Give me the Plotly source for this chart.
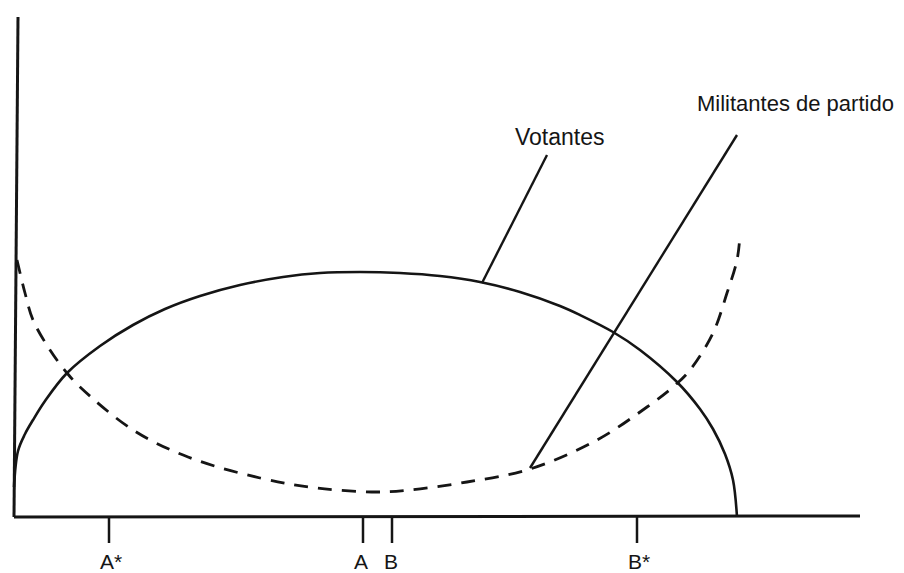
import plotly.graph_objects as go

# Votantes curve (solid)
votantes_x = [0, 4, 11, 19, 31, 53, 86, 119, 151, 186, 226, 269, 306, 346, 386, 426, 466,
              506, 546, 566, 599, 626, 663, 686, 699, 711, 719, 723]
votantes_y = [30, 66, 83, 97, 116, 144, 171, 192, 208, 221, 232, 240, 244, 245, 244, 241, 235,
              225, 211, 202, 185, 167, 135, 108, 88, 63, 37, 0]

# Militantes de partido curve (dashed)
militantes_x = [3, 11, 19, 36, 53, 66, 119, 174, 246, 303, 363, 396, 453, 516, 583, 633, 659, 676, 699, 713, 723, 726]
militantes_y = [257, 224, 197, 167, 144, 130, 87, 60, 39, 29, 25, 27, 35, 48, 77, 110, 130, 147, 184, 224, 257, 282]

# Axis lines
yaxis_x = [0, 4]
yaxis_y = [0, 500]
xaxis_x = [0, 846]
xaxis_y = [0, 1]

# Tick marks and labels on the horizontal axis
tick_pos = [95, 349, 378, 623]
tick_labels = ["A*", "A", "B", "B*"]
tick_label_x = [97, 347, 377, 625]
tick_len = 26

# Leader lines for labels: [start, end]
votantes_leader_x = [533, 468]
votantes_leader_y = [362, 234]
militantes_leader_x = [723, 516]
militantes_leader_y = [382, 49]

label_votantes = ("Votantes", 546, 380)
label_militantes = ("Militantes de partido", 781, 414)

INK = "#151515"
FONT = "Liberation Sans, Arial, Helvetica, sans-serif"

fig = go.Figure()

def line(x, y, width=2.5, dash=None, shape="linear", smoothing=1.0):
    fig.add_trace(go.Scatter(
        x=x, y=y, mode="lines",
        line=dict(color=INK, width=width, dash=dash, shape=shape, smoothing=smoothing),
        hoverinfo="skip", showlegend=False))

line(yaxis_x, yaxis_y, width=3)
line(xaxis_x, xaxis_y, width=3)
for t in tick_pos:
    line([t, t], [0, -tick_len], width=2.5)

line(votantes_x, votantes_y, width=2.6, shape="spline", smoothing=1.0)
line(militantes_x, militantes_y, width=2.8, dash="14px,10px", shape="spline")
line(votantes_leader_x, votantes_leader_y, width=2.4)
line(militantes_leader_x, militantes_leader_y, width=2.4)

for txt, x in zip(tick_labels, tick_label_x):
    fig.add_annotation(x=x, y=-44, text=txt, showarrow=False,
                       xanchor="center", yanchor="middle",
                       font=dict(family=FONT, size=21, color=INK))

fig.add_annotation(x=label_votantes[1], y=label_votantes[2], text=label_votantes[0],
                   showarrow=False, xanchor="center", yanchor="middle",
                   font=dict(family=FONT, size=23, color=INK))
fig.add_annotation(x=label_militantes[1], y=label_militantes[2], text=label_militantes[0],
                   showarrow=False, xanchor="center", yanchor="middle",
                   font=dict(family=FONT, size=22, color=INK))

fig.update_layout(
    width=904, height=573, autosize=False,
    margin=dict(l=0, r=0, t=0, b=0),
    paper_bgcolor="white", plot_bgcolor="white",
    xaxis=dict(range=[-14, 890], visible=False, fixedrange=True),
    yaxis=dict(range=[-56, 517], visible=False, fixedrange=True),
)

fig.write_html("out.html", config={"displayModeBar": False},
               post_script="document.body.style.margin='0';document.body.style.overflow='hidden';")
